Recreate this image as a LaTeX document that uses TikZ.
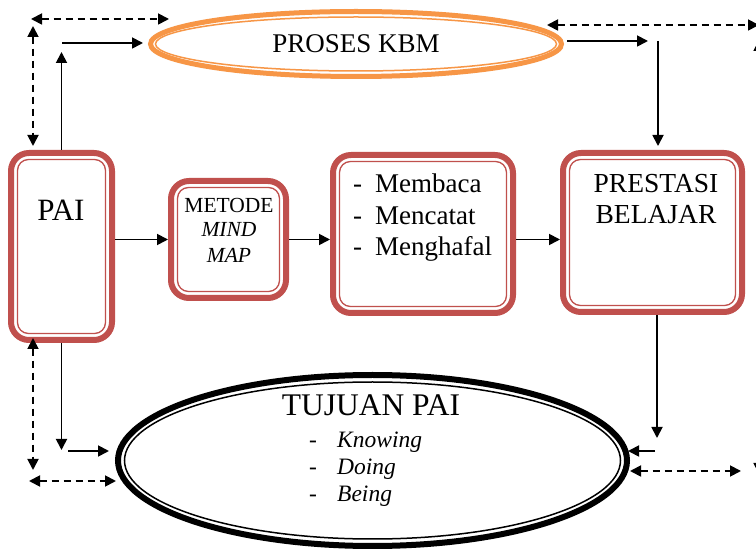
\documentclass[tikz,border=0pt]{standalone}
\usepackage{fontspec}
\setmainfont{Liberation Serif}
\usetikzlibrary{arrows.meta,shapes.geometric}
\definecolor{boxred}{HTML}{C0504D}
\definecolor{kbmorange}{HTML}{F79646}
\tikzset{
  redbox/.style={draw=boxred, line width=6pt, rounded corners=18pt, inner sep=0pt},
  thinred/.style={draw=boxred, line width=1.3pt, rounded corners=11pt},
  arr/.style={line width=1.8pt, -{Triangle[length=11pt,width=11pt]}},
  darr/.style={line width=1.8pt, dash pattern=on 7pt off 5pt, {Triangle[length=11pt,width=11pt]}-{Triangle[length=11pt,width=11pt]}},
  lbl/.style={inner sep=0pt, anchor=base},
  lblw/.style={inner sep=0pt, anchor=base west},
}
\begin{document}
\begin{tikzpicture}[x=1pt,y=-1pt]
\useasboundingbox (0,0) rectangle (756,553);
\clip (0,0) rectangle (756,553);
\fill[white] (0,0) rectangle (756,553);

% ---- boxes ----
\node[redbox, minimum width=101pt, minimum height=187pt] (pai) at (61.5,246.5) {};
\node[redbox, minimum width=115pt, minimum height=117pt] (metode) at (228.5,239.5) {};
\node[redbox, minimum width=180pt, minimum height=158pt] (baca) at (423,234) {};
\node[redbox, minimum width=179pt, minimum height=159pt] (prestasi) at (652.5,232.5) {};
\foreach \b in {pai,metode,baca,prestasi}{
  \draw[thinred] ([shift={(9.5pt,-9.5pt)}]\b.north west) rectangle ([shift={(-9.5pt,9.5pt)}]\b.south east);
}

% ---- ellipses ----
\node[ellipse, draw=kbmorange, line width=5pt, inner sep=0pt, minimum width=411pt, minimum height=65pt,
      font=\fontsize{27}{30}\selectfont] (kbm) at (356,44) {PROSES KBM};
\draw[kbmorange, line width=1.5pt] (kbm.center) ellipse [x radius=200.5pt, y radius=27pt];

\node[ellipse, draw=black, line width=6pt, inner sep=0pt, minimum width=509pt, minimum height=171pt] (tujuan) at (372.5,460.5) {};
\draw[black, line width=1.5pt] (tujuan.center) ellipse [x radius=248pt, y radius=78.5pt];

% ---- texts ----
\node[lbl, font=\fontsize{31}{34}\selectfont] (paitxt) at (61,221) {PAI};

\node[lbl, font=\fontsize{21.5}{24}\selectfont] (met1) at (229,213) {METODE};
\node[lbl, font=\fontsize{21.5}{24}\selectfont\itshape] (met2) at (229,237) {MIND};
\node[lbl, font=\fontsize{21.5}{24}\selectfont\itshape] (met3) at (229,263) {MAP};

\node[lblw, font=\fontsize{27}{30}\selectfont] (b1) at (353,193) {\makebox[22pt][l]{-}Membaca};
\node[lblw, font=\fontsize{27}{30}\selectfont] (b2) at (353,224.5) {\makebox[22pt][l]{-}Mencatat};
\node[lblw, font=\fontsize{27}{30}\selectfont] (b3) at (353,256) {\makebox[22pt][l]{-}Menghafal};

\node[lbl, font=\fontsize{27.5}{30}\selectfont] (p1) at (656,193) {PRESTASI};
\node[lbl, font=\fontsize{27.5}{30}\selectfont] (p2) at (656,224) {BELAJAR};

\node[lbl, font=\fontsize{31.5}{34}\selectfont] (t0) at (371,416) {TUJUAN PAI};
\node[lblw, font=\fontsize{23.5}{26}\selectfont] (t1) at (309,448) {\makebox[28pt][l]{-}\textit{Knowing}};
\node[lblw, font=\fontsize{23.5}{26}\selectfont] (t2) at (309,475) {\makebox[28pt][l]{-}\textit{Doing}};
\node[lblw, font=\fontsize{23.5}{26}\selectfont] (t3) at (309,502) {\makebox[28pt][l]{-}\textit{Being}};

% ---- coordinates ----
\coordinate (paiUp) at (61.5,52);
\coordinate (a2s) at (62,43);
\coordinate (a2e) at (143,43);
\coordinate (d1s) at (31,19);
\coordinate (d1e) at (169,19);
\coordinate (d2s) at (33,26);
\coordinate (d2e) at (33,146);
\coordinate (d3s) at (547,25);
\coordinate (d3e) at (759,25);
\coordinate (a6s) at (567,41);
\coordinate (a6e) at (648,41);
\coordinate (a7s) at (658,41);
\coordinate (a7e) at (658,146);
\coordinate (a8e) at (657,438);
\coordinate (a9s) at (655,451);
\coordinate (a9e) at (628,451);
\coordinate (d4s) at (630,471);
\coordinate (d4e) at (741,471);
\coordinate (a11e) at (61.5,450);
\coordinate (a12s) at (68,451);
\coordinate (a12e) at (109,451);
\coordinate (d5s) at (33,338);
\coordinate (d5e) at (33,470);
\coordinate (d6s) at (29,481);
\coordinate (d6e) at (116,481);
\coordinate (d7s) at (759,40);
\coordinate (d7e) at (759,474);

% ---- connectors ----
\draw[arr] (pai.east |- metode.west) -- (metode.west);
\draw[arr] (metode.east) -- (baca.west |- metode.east);
\draw[arr] (baca.east |- metode.east) -- (prestasi.west |- metode.east);

\draw[arr] (pai.north) -- (paiUp);
\draw[arr] (a2s) -- (a2e);
\draw[darr] (d1s) -- (d1e);
\draw[darr] (d2s) -- (d2e);
\draw[darr] (d3s) -- (d3e);
\draw[arr] (a6s) -- (a6e);
\draw[arr] (a7s) -- (a7e);
\draw[arr] (prestasi.south -| a8e) -- (a8e);
\draw[arr] (a9s) -- (a9e);
\draw[darr] (d4s) -- (d4e);
\draw[arr] (pai.south) -- (a11e);
\draw[arr] (a12s) -- (a12e);
\draw[darr] (d5s) -- (d5e);
\draw[darr] (d6s) -- (d6e);
\draw[darr] (d7s) -- (d7e);
\end{tikzpicture}
\end{document}
